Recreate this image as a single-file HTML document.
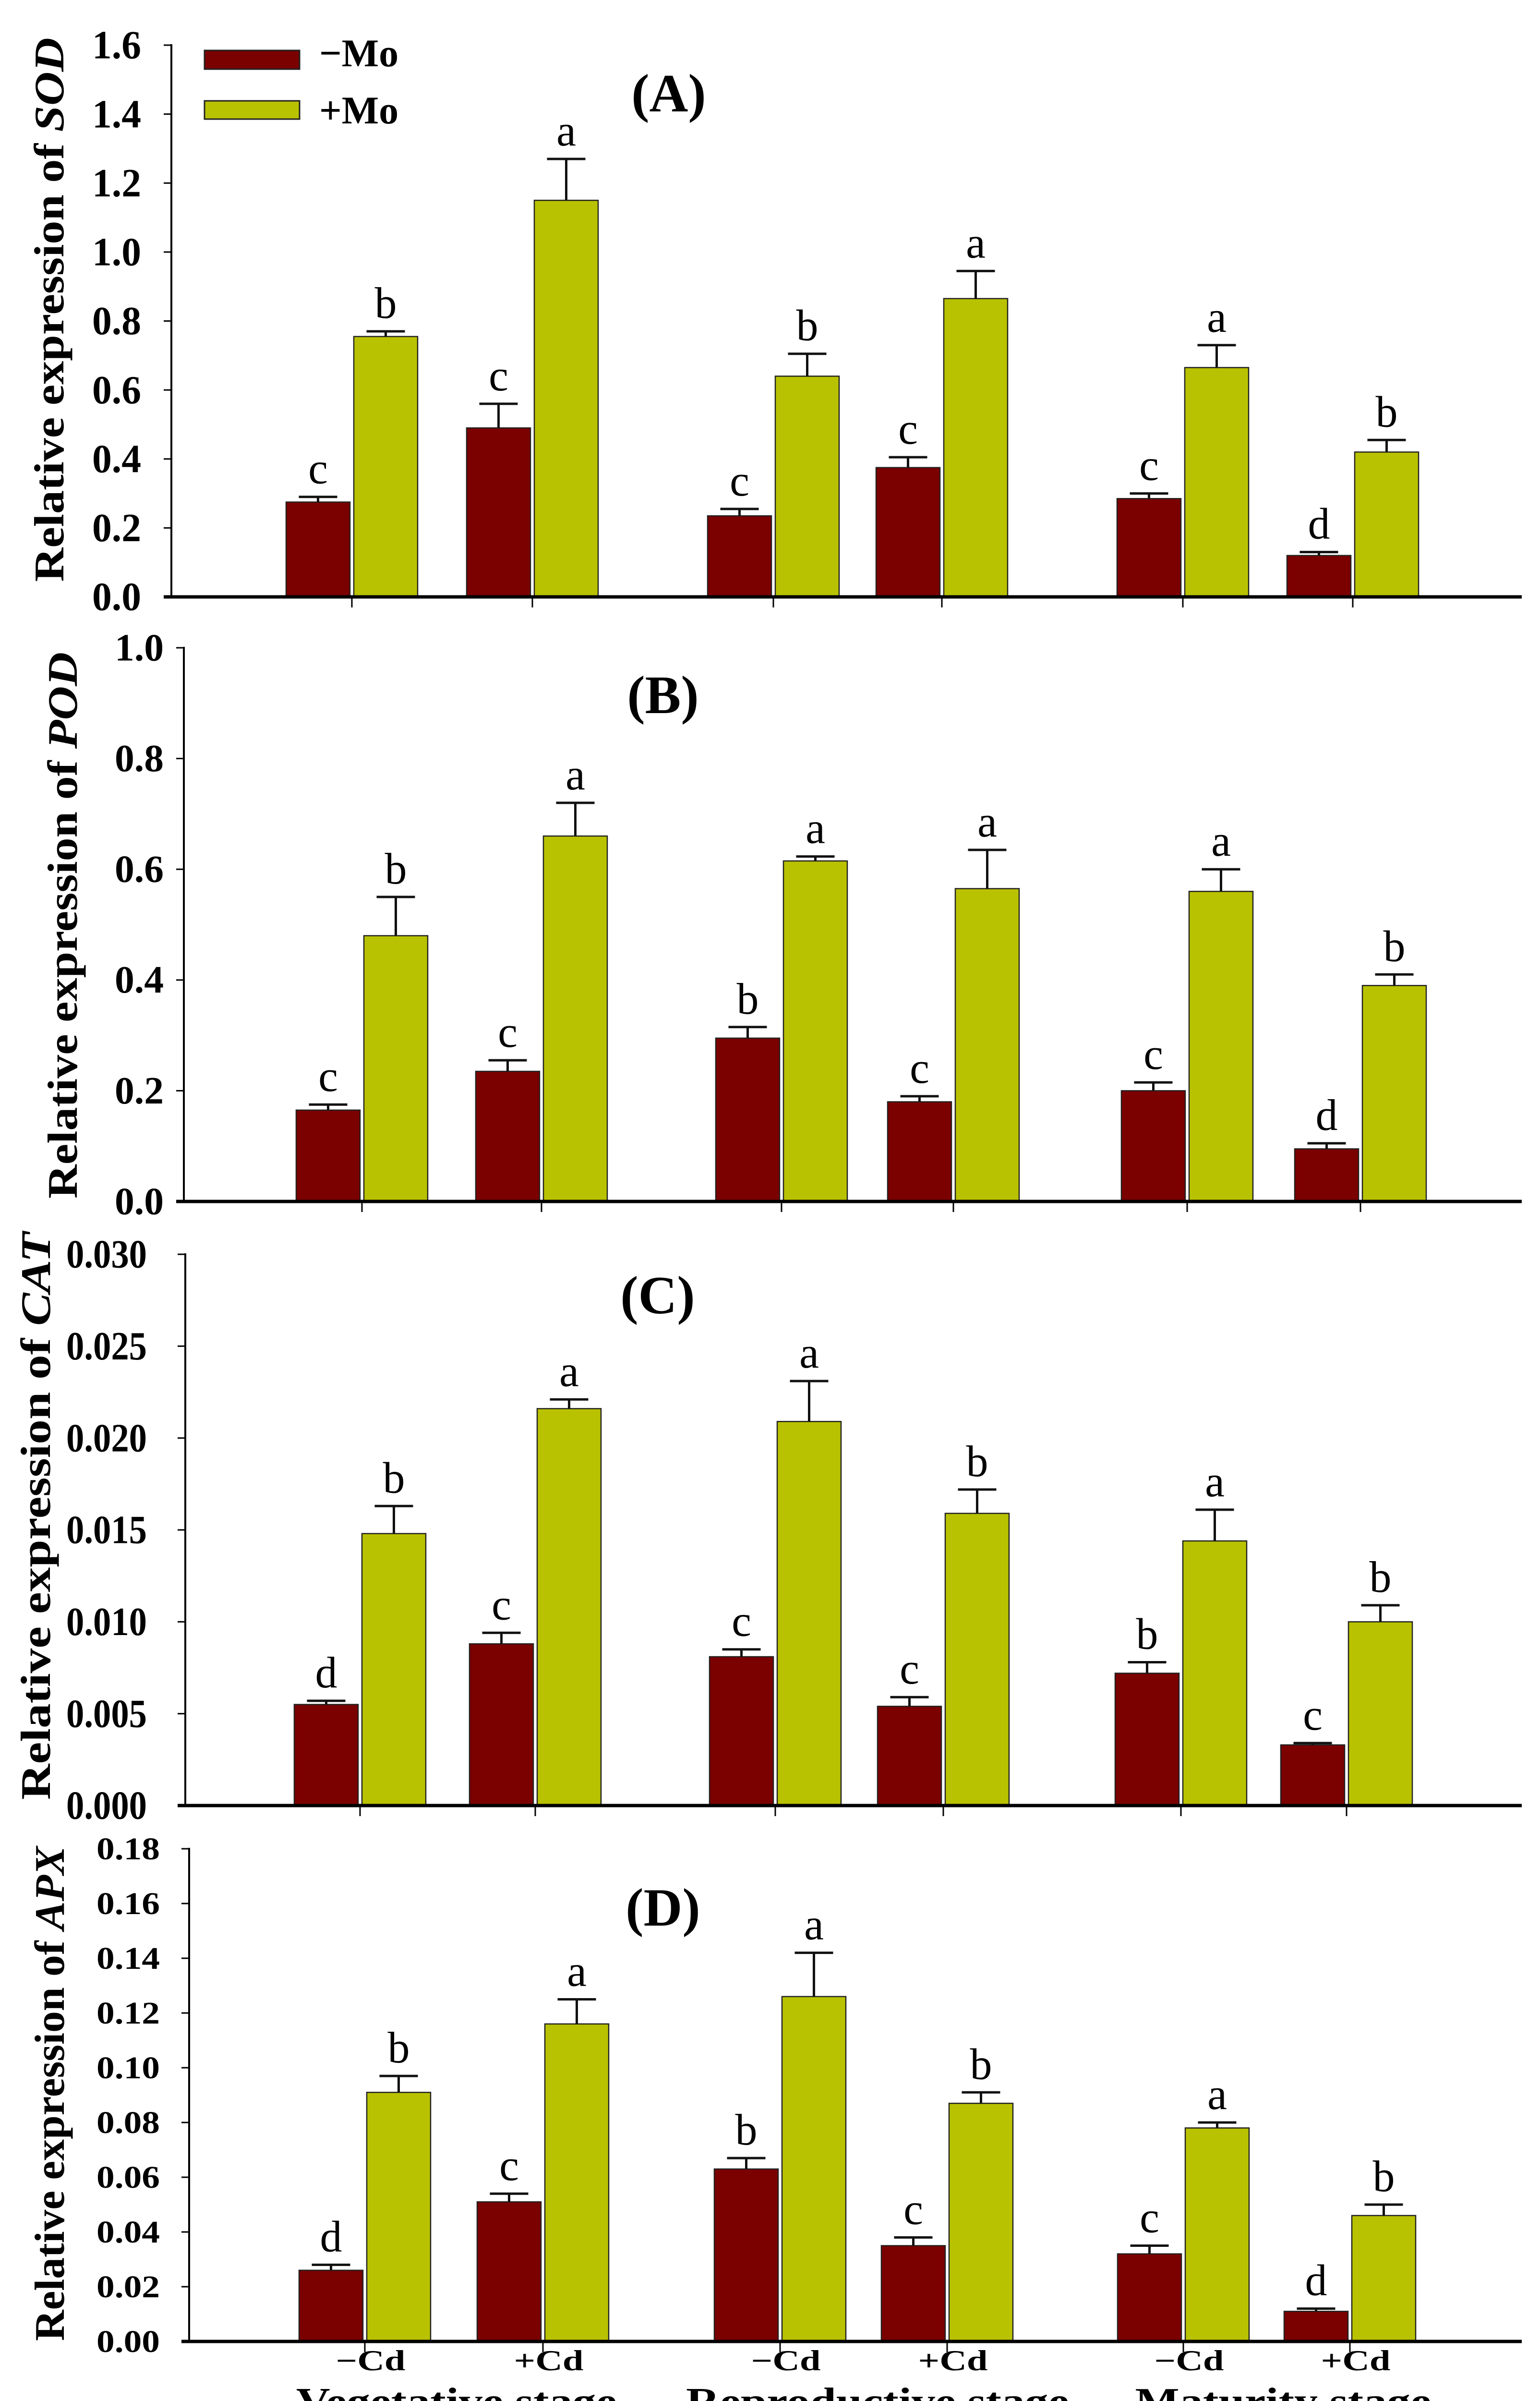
<!DOCTYPE html>
<html><head><meta charset="utf-8"><style>
html,body{margin:0;padding:0;background:#fff;overflow:hidden;width:3208px;height:5096px;}
svg{display:block;font-family:"Liberation Serif",serif;}
</style></head><body>
<svg id="chart" width="3208" height="5096" viewBox="0 0 3208 5096" xmlns="http://www.w3.org/2000/svg"></svg>
<script>
// ---- data ----
const groups = ["−Cd","+Cd","−Cd","+Cd","−Cd","+Cd"];
const stages = ["Vegetative stage","Reproductive stage","Maturity stage"];
const genes = ["SOD","POD","CAT","APX"];
const panelLetters = ["(A)","(B)","(C)","(D)"];

const sodMinus = [0.275,0.49,0.235,0.375,0.285,0.12];
const sodMinusErr = [0.015,0.07,0.02,0.03,0.015,0.01];
const sodPlus = [0.755,1.15,0.64,0.865,0.665,0.42];
const sodPlusErr = [0.015,0.12,0.065,0.08,0.065,0.035];
const sodMinusSig = ["c","c","c","c","c","d"];
const sodPlusSig = ["b","a","b","a","a","b"];

const podMinus = [0.165,0.235,0.295,0.18,0.2,0.095];
const podMinusErr = [0.01,0.02,0.02,0.01,0.015,0.01];
const podPlus = [0.48,0.66,0.615,0.565,0.56,0.39];
const podPlusErr = [0.07,0.06,0.008,0.07,0.04,0.02];
const podMinusSig = ["c","c","b","c","c","d"];
const podPlusSig = ["b","a","a","a","a","b"];

const catMinus = [0.0055,0.0088,0.0081,0.0054,0.0072,0.0033];
const catMinusErr = [0.0002,0.0006,0.0004,0.0005,0.0006,0.0001];
const catPlus = [0.0148,0.0216,0.0209,0.0159,0.0144,0.0100];
const catPlusErr = [0.0015,0.0005,0.0022,0.0013,0.0017,0.0009];
const catMinusSig = ["d","c","c","c","b","c"];
const catPlusSig = ["b","a","a","b","a","b"];

const apxMinus = [0.026,0.051,0.063,0.035,0.032,0.011];
const apxMinusErr = [0.002,0.003,0.004,0.003,0.003,0.001];
const apxPlus = [0.091,0.116,0.126,0.087,0.078,0.046];
const apxPlusErr = [0.006,0.009,0.016,0.004,0.002,0.004];
const apxMinusSig = ["d","c","b","c","c","d"];
const apxPlusSig = ["b","a","a","b","a","b"];

const sodTicks = [0,0.2,0.4,0.6,0.8,1.0,1.2,1.4,1.6];
const podTicks = [0,0.2,0.4,0.6,0.8,1.0];
const catTicks = [0,0.005,0.010,0.015,0.020,0.025,0.030];
const apxTicks = [0,0.02,0.04,0.06,0.08,0.10,0.12,0.14,0.16,0.18];
const sodTickLabels = ["0.0","0.2","0.4","0.6","0.8","1.0","1.2","1.4","1.6"];
const podTickLabels = ["0.0","0.2","0.4","0.6","0.8","1.0"];
const catTickLabels = ["0.000","0.005","0.010","0.015","0.020","0.025","0.030"];
const apxTickLabels = ["0.00","0.02","0.04","0.06","0.08","0.10","0.12","0.14","0.16","0.18"];

// ---- layout ----
const NS="http://www.w3.org/2000/svg";
const svg=document.getElementById('chart');
function mk(tag,attrs,parent){const e=document.createElementNS(NS,tag);for(const k in attrs)e.setAttribute(k,attrs[k]);(parent||svg).appendChild(e);return e;}

const panels=[
 {minus:sodMinus,minusErr:sodMinusErr,plus:sodPlus,plusErr:sodPlusErr,ms:sodMinusSig,ps:sodPlusSig,ticks:sodTicks,labels:sodTickLabels,
  axisX:357,y0:1243,yTop:94,right:3170,pos:[733,1109,1611,1962,2464,2818],labRight:294,cw:38,fs:84,titleX:102,titleY:645,titleLen:1133,lx:1393,ly:232},
 {minus:podMinus,minusErr:podMinusErr,plus:podPlus,plusErr:podPlusErr,ms:podMinusSig,ps:podPlusSig,ticks:podTicks,labels:podTickLabels,
  axisX:383,y0:2502,yTop:1349,right:3170,pos:[754,1128,1628,1986,2473,2834],labRight:341,cw:38,fs:80,titleX:130,titleY:1927,titleLen:1138,lx:1381,ly:1485},
 {minus:catMinus,minusErr:catMinusErr,plus:catPlus,plusErr:catPlusErr,ms:catMinusSig,ps:catPlusSig,ticks:catTicks,labels:catTickLabels,
  axisX:386,y0:3760,yTop:2612,right:3170,pos:[750,1115,1615,1965,2460,2805],labRight:306,cw:36,fs:84,titleX:74,titleY:3157,titleLen:1182,lx:1370,ly:2735},
 {minus:apxMinus,minusErr:apxMinusErr,plus:apxPlus,plusErr:apxPlusErr,ms:apxMinusSig,ps:apxPlusSig,ticks:apxTicks,labels:apxTickLabels,
  axisX:394,y0:4876,yTop:3850,right:3170,pos:[760,1131,1625,1973,2465,2812],labRight:333,cw:36,fs:66,titleX:103,titleY:4360,titleLen:1030,lx:1381,ly:4010}
];
const BW=133, GAP=8;

panels.forEach((p,pi)=>{
  const g=mk('g',{});
  
  
  const maxV=p.ticks[p.ticks.length-1];
  const yS=v=>p.y0-(v/maxV)*(p.y0-p.yTop);
  p.ticks.forEach((t,i)=>{
    const y=yS(t);
    const tk=mk('line',{x1:p.axisX-16,x2:p.axisX,y1:y,y2:y,stroke:'#000','stroke-width':3},g);
    
    
    const lab=p.labels[i];
    const tx=mk('text',{x:p.labRight,y:y+p.fs*0.33,'text-anchor':'end','font-size':p.fs,'font-weight':'bold',textLength:lab.length*p.cw-(lab.includes('.')?12:0),lengthAdjust:'spacingAndGlyphs'},g);
    tx.textContent=lab;
    
    
  });
  const tt=mk('text',{x:0,y:0,transform:`translate(${p.titleX+30},${p.titleY}) rotate(-90)`,'text-anchor':'middle','font-size':88,'font-weight':'bold',textLength:p.titleLen,lengthAdjust:'spacingAndGlyphs'},g);
  
  
  tt.appendChild(document.createTextNode('Relative expression of '));
  const it=mk('tspan',{'font-style':'italic'},tt); it.textContent=genes[pi];
  p.pos.forEach((cx,i)=>{
    [[p.minus,p.minusErr,p.ms,'#7b0000',cx-GAP/2-BW,'minus'],[p.plus,p.plusErr,p.ps,'#b9c200',cx+GAP/2,'plus']].forEach(([vals,errs,sig,col,x,nm])=>{
      const v=vals[i], e=errs[i];
      const top=yS(v), et=yS(v+e);
      const r=mk('rect',{x:x,y:top,width:BW,height:p.y0-top,fill:col,stroke:'#222','stroke-width':2.5},g);
      
      
      const bc=x+BW/2;
      const el=mk('path',{d:`M${bc} ${top} V${et} M${bc-40} ${et} H${bc+40}`,stroke:'#111','stroke-width':5,fill:'none'},g);
      
      
      const lt=mk('text',{x:bc,y:et-28,'text-anchor':'middle','font-size':92},g);
      lt.textContent=sig[i];
      
      
    });
    const xt=mk('line',{x1:cx,x2:cx,y1:p.y0,y2:p.y0+22,stroke:'#000','stroke-width':3},g);
    
    
  });
  const ya=mk('line',{x1:p.axisX,x2:p.axisX,y1:p.yTop-2,y2:p.y0,stroke:'#000','stroke-width':4},g);
  
  
  const xa=mk('line',{x1:p.axisX-16,x2:p.right,y1:p.y0,y2:p.y0,stroke:'#000','stroke-width':7},g);
  
  
  const pl=mk('text',{x:p.lx,y:p.ly,'text-anchor':'middle','font-size':112,'font-weight':'bold'},g);
  pl.textContent=panelLetters[pi];
  
  
  if(pi===3){
    p.pos.forEach((cx,i)=>{
      const t=mk('text',{x:cx+12,y:4936,'text-anchor':'middle','font-size':60,'font-weight':'bold',textLength:145,lengthAdjust:'spacingAndGlyphs'},g);
      t.textContent=groups[i];
      
      
    });
    const stageX=[951,1828,2673], stageW=[668,798,617];
    stages.forEach((s,i)=>{
      const t=mk('text',{x:stageX[i],y:5028,'text-anchor':'middle','font-size':80,'font-weight':'bold',textLength:stageW[i],lengthAdjust:'spacingAndGlyphs'},g);
      t.textContent=s;
      
      
    });
  }
});
const lg=mk('g',{});


const l1=mk('rect',{x:426,y:105,width:198,height:39,fill:'#7b0000',stroke:'#222','stroke-width':3},lg);


const l2=mk('rect',{x:426,y:210,width:198,height:38,fill:'#b9c200',stroke:'#222','stroke-width':3},lg);


const t1=mk('text',{x:665,y:138,'font-size':82,'font-weight':'bold'},lg);t1.textContent='−Mo';


const t2=mk('text',{x:665,y:257,'font-size':82,'font-weight':'bold'},lg);t2.textContent='+Mo';


</script>
</body></html>
